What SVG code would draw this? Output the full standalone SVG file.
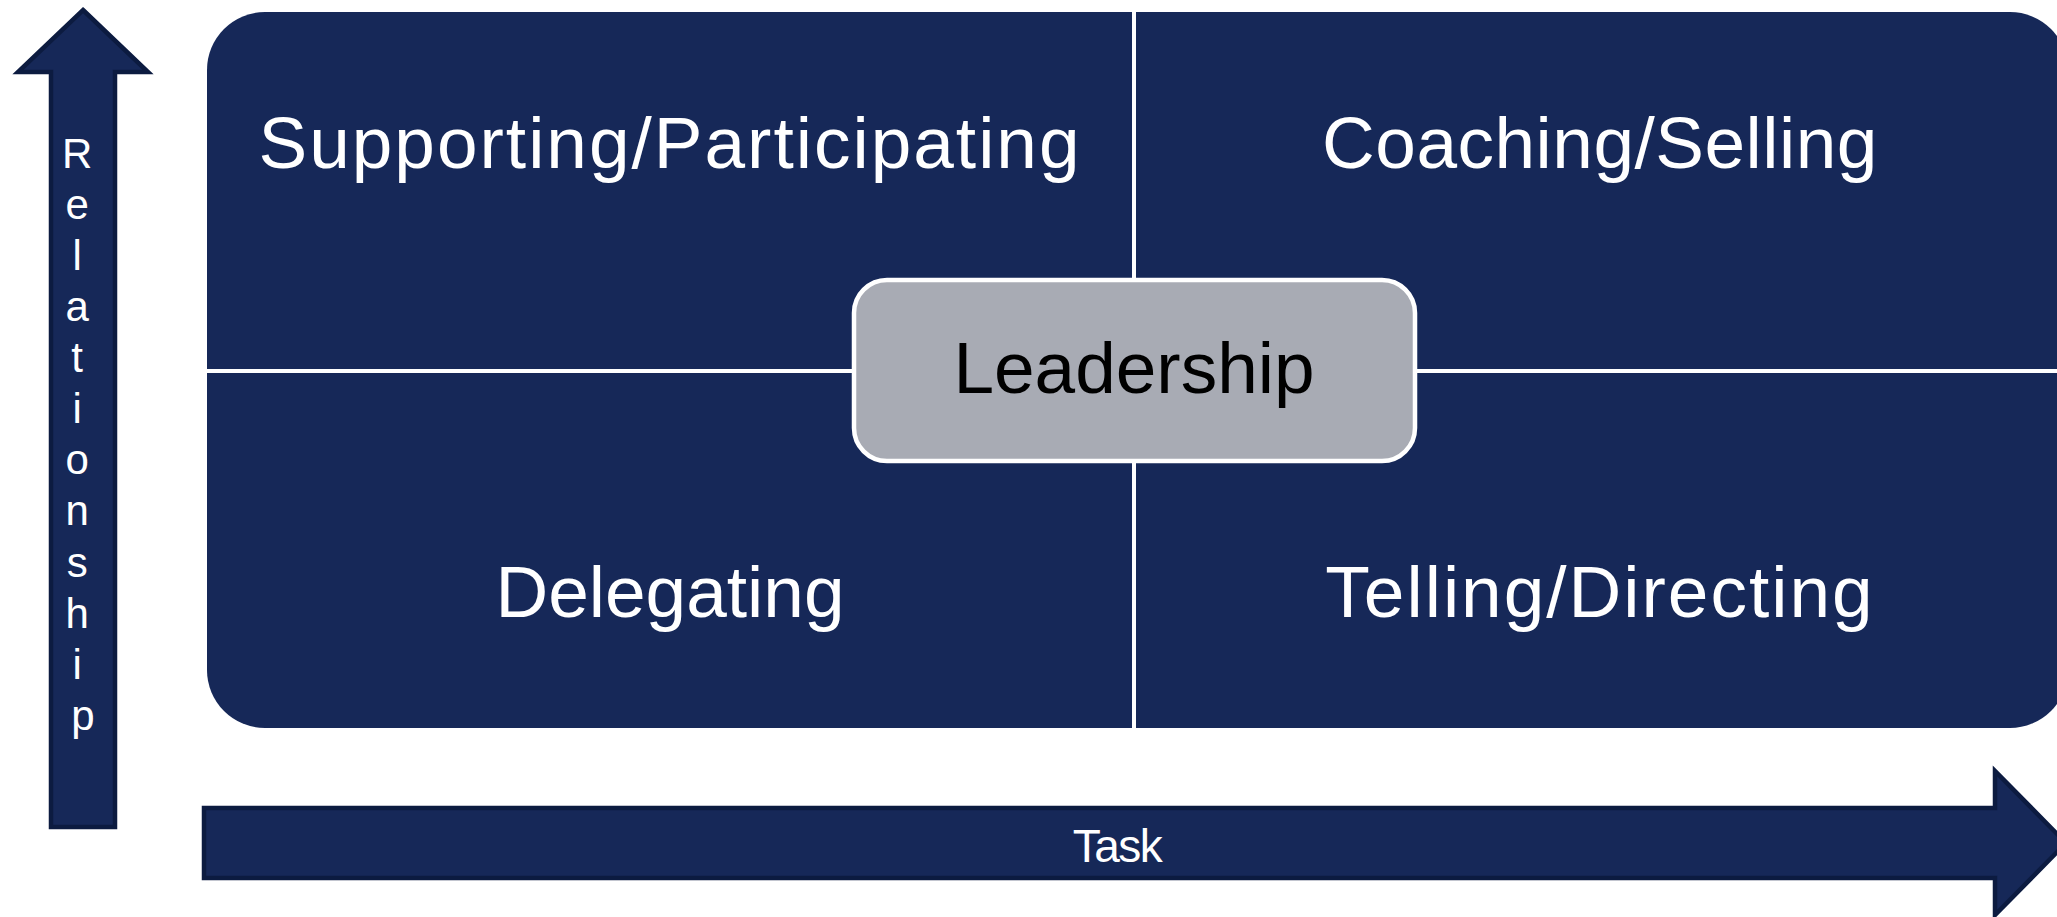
<svg xmlns="http://www.w3.org/2000/svg" width="2057" height="917" viewBox="0 0 2057 917">
  <style>
    .arrow { fill: #162858; stroke: #0c1b40; stroke-width: 4.5; stroke-linejoin: miter; }
    .quad { fill: #162858; }
    .divider { stroke: #ffffff; stroke-width: 4; }
    .label { font-family: "Liberation Sans", Arial, sans-serif; fill: #ffffff; text-anchor: middle; }
    .big { font-size: 73px; }
    .axis { font-size: 42px; }
    .center-box { fill: #a8abb4; stroke: #ffffff; stroke-width: 4.5; }
    .center-text { font-family: "Liberation Sans", Arial, sans-serif; font-size: 73px; fill: #000000; text-anchor: middle; }
  </style>

  <!-- Relationship axis (up arrow) -->
  <g id="relationship-axis">
    <polygon class="arrow" points="83,10 148,72 115,72 115,827 51,827 51,72 18,72"/>
    <text class="label axis" x="83">
      <tspan x="83" y="168">R</tspan>
      <tspan x="83" y="219">e</tspan>
      <tspan x="83" y="270">l</tspan>
      <tspan x="83" y="321">a</tspan>
      <tspan x="83" y="372">t</tspan>
      <tspan x="83" y="423">i</tspan>
      <tspan x="83" y="474">o</tspan>
      <tspan x="83" y="525">n</tspan>
      <tspan x="83" y="577">s</tspan>
      <tspan x="83" y="628">h</tspan>
      <tspan x="83" y="679">i</tspan>
      <tspan x="83" y="730">p</tspan>
    </text>
  </g>

  <!-- Task axis (right arrow) -->
  <g id="task-axis">
    <polygon class="arrow" points="204,808 1995,808 1995,771 2066,843 1995,915 1995,878 204,878"/>
    <text class="label" x="1117" y="862" font-size="46" letter-spacing="-1.5">Task</text>
  </g>

  <!-- Quadrant background -->
  <g id="quadrants">
    <rect class="quad" x="207" y="12" width="1861" height="716" rx="58" ry="58"/>
  </g>

  <!-- Quadrant dividers -->
  <g id="connectors">
    <line class="divider" x1="1134" y1="12" x2="1134" y2="728"/>
    <line class="divider" x1="207" y1="371" x2="2068" y2="371"/>
  </g>

  <g id="supporting">
    <text class="label big" x="670" y="168" letter-spacing="2">Supporting/Participating</text>
  </g>
  <g id="coaching">
    <text class="label big" x="1600" y="168" letter-spacing="0.5">Coaching/Selling</text>
  </g>
  <g id="delegating">
    <text class="label big" x="670" y="617">Delegating</text>
  </g>
  <g id="telling">
    <text class="label big" x="1600" y="617" letter-spacing="2">Telling/Directing</text>
  </g>

  <!-- Central node -->
  <g id="leadership">
    <rect class="center-box" x="854" y="280" width="561" height="181" rx="33" ry="33"/>
    <text class="center-text" x="1134" y="393">Leadership</text>
  </g>
</svg>
